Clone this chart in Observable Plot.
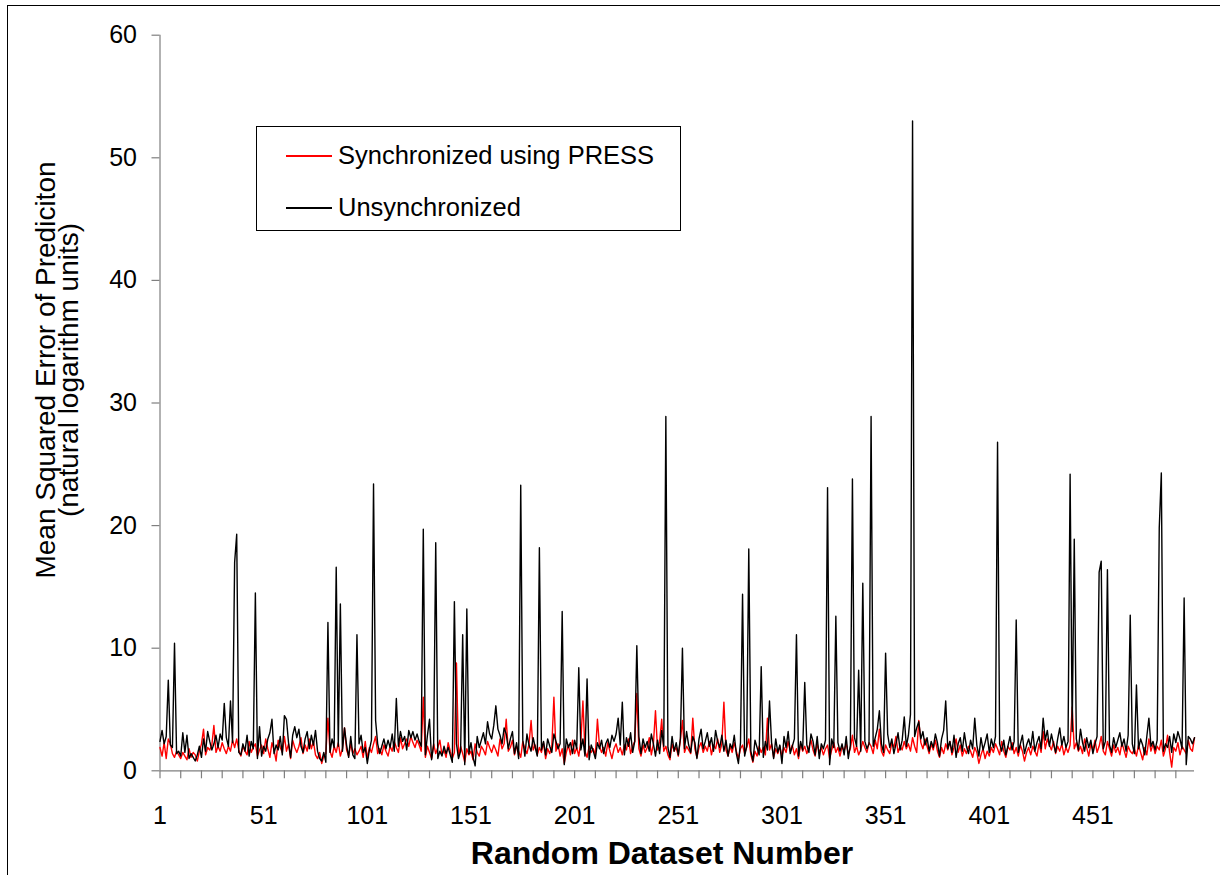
<!DOCTYPE html>
<html><head><meta charset="utf-8">
<script src="https://cdn.jsdelivr.net/npm/d3@7"></script>
<script src="https://cdn.jsdelivr.net/npm/@observablehq/plot@0.6"></script>
<style>
body{margin:0;background:#fff;font-family:"Liberation Sans",Arial,sans-serif;}
#wrap{position:relative;width:1220px;height:875px;overflow:hidden;background:#fff;}
#frame{position:absolute;left:7px;top:5px;width:1240px;height:900px;border:1.5px solid #000;box-sizing:border-box;pointer-events:none;}
#legend{position:absolute;left:256px;top:126px;width:425px;height:105px;border:1px solid #000;box-sizing:border-box;background:#fff;}
.lg{position:absolute;left:0;height:30px;font-size:25.5px;line-height:30px;color:#000;white-space:nowrap;}
.sw{position:absolute;left:29px;width:46px;height:1.5px;}
.lt{position:absolute;left:81px;top:0;}
#xtitle{position:absolute;left:662px;top:853px;transform:translate(-50%,-50%);font-weight:bold;font-size:32px;white-space:nowrap;}
#ytitle{position:absolute;left:57px;top:370px;transform:translate(-50%,-50%) rotate(-90deg);font-size:28px;line-height:23px;text-align:center;white-space:nowrap;}
</style>
</head><body>
<div id="wrap">
<div id="chart"></div>
<div id="legend"></div>
<div id="xtitle"></div>
<div id="ytitle"></div>
<div id="frame"></div>
</div>
<script>
// ---- data ----
const seriesNames = ["Synchronized using PRESS", "Unsynchronized"];
const seriesColors = ["#ff0000", "#000000"];
const xTitle = "Random Dataset Number";
const yTitleLines = ["Mean Squared Error of Prediciton", "(natural logarithm units)"];
const yTicks = [0, 10, 20, 30, 40, 50, 60];
const xLabelTicks = [1, 51, 101, 151, 201, 251, 301, 351, 401, 451];

const unsynchronized = [
2.4,3.3,2.2,2.8,7.4,2.1,1.9,10.4,1.4,1.6,
1.2,3.1,1.5,2.9,1.0,1.4,1.1,0.8,1.3,2.0,
1.1,2.6,1.6,3.2,2.4,1.7,2.2,2.9,1.9,3.0,
2.5,5.5,2.7,2.0,5.7,2.3,17.0,19.3,1.5,1.3,
2.2,1.6,2.9,1.2,2.4,1.8,14.5,1.0,3.6,1.2,
2.0,1.6,2.6,3.1,4.2,1.4,2.1,1.7,2.8,1.3,
4.5,4.2,2.3,1.1,2.9,3.6,2.7,3.4,2.0,1.5,
2.6,3.2,1.8,2.9,2.1,3.3,1.6,1.0,0.8,1.5,
0.7,12.1,1.5,2.6,1.9,16.6,2.0,13.6,1.6,3.5,
2.1,1.1,2.8,1.3,1.0,11.1,2.2,2.9,1.5,1.9,
0.6,1.7,2.5,23.4,4.1,2.2,1.4,2.0,2.6,1.8,
2.5,1.9,3.0,1.6,5.9,2.0,3.2,2.4,2.8,1.7,
3.3,2.7,3.2,2.5,3.0,2.4,2.0,19.7,1.3,2.9,
4.2,0.9,2.1,18.6,1.0,1.6,1.2,2.0,1.4,1.9,
1.3,0.7,13.8,2.2,1.0,1.6,11.1,0.5,13.2,1.4,
2.3,1.1,0.4,2.8,1.9,2.5,3.1,2.2,4.0,3.0,
2.6,3.7,5.3,3.4,2.9,2.2,3.5,3.0,1.8,2.6,
3.2,1.4,2.3,1.0,23.3,2.5,1.2,3.0,2.1,1.6,
2.7,1.9,1.2,18.2,1.7,2.4,1.3,2.6,2.0,1.5,
3.0,2.4,1.8,2.2,13.0,0.5,2.6,1.9,2.3,1.4,
2.5,1.8,8.4,1.7,2.6,1.2,7.5,0.9,2.1,1.6,
1.0,2.3,1.8,2.5,1.4,2.2,2.6,1.9,2.9,2.4,
3.0,4.3,2.1,5.6,1.3,2.7,2.0,3.1,1.5,2.4,
10.2,2.8,1.4,2.6,1.9,2.4,1.6,3.0,2.2,1.2,
2.5,1.4,3.3,2.0,28.9,1.9,1.1,2.8,1.6,2.3,
1.3,2.6,10.0,1.8,3.2,2.1,1.5,2.8,2.3,1.0,
2.6,3.4,1.8,2.4,3.1,2.0,2.7,1.6,3.3,2.4,
1.9,2.9,1.6,2.5,1.2,2.2,1.8,2.9,1.4,0.6,
2.3,14.4,1.2,2.0,18.1,1.6,0.8,2.5,1.9,1.3,
8.5,1.1,2.4,1.7,5.7,2.3,1.0,2.6,1.5,2.1,
0.6,2.8,1.9,3.2,1.4,2.0,2.6,11.1,1.2,2.4,
1.7,7.2,2.1,1.5,3.0,2.4,1.3,2.8,1.0,2.2,
1.8,2.5,23.1,0.5,2.6,1.9,12.6,2.3,1.6,2.2,
1.3,2.8,1.0,2.1,23.8,2.7,2.0,8.2,1.6,15.3,
2.4,1.8,2.2,28.9,2.0,2.7,3.4,4.9,2.2,1.5,
9.6,3.0,1.9,2.6,1.4,2.2,3.1,1.7,2.5,4.4,
2.0,2.9,4.6,53.0,2.8,3.5,4.0,2.6,3.2,2.1,
2.7,1.6,2.4,1.9,3.0,2.3,1.2,2.6,3.3,5.7,
1.8,2.4,1.5,2.9,1.1,2.2,2.7,1.6,3.1,2.0,
1.4,2.5,1.8,4.3,2.1,1.2,2.7,1.7,2.3,3.0,
1.5,2.6,1.9,2.8,26.8,2.2,1.6,2.5,1.3,2.0,
2.8,1.7,2.4,12.3,1.5,2.2,2.9,1.4,2.1,2.6,
1.9,3.2,1.6,2.3,2.8,1.8,4.3,2.5,3.3,2.0,
3.0,2.2,1.5,2.6,3.5,2.1,2.8,1.9,2.4,24.2,
3.2,18.9,2.6,1.7,3.4,2.3,1.6,2.7,1.9,2.5,
1.4,2.2,2.8,16.2,17.1,1.8,2.4,16.4,2.1,1.5,
2.7,1.9,2.5,3.1,2.0,2.6,1.6,2.9,12.7,2.2,
1.4,7.0,1.8,2.6,2.1,1.3,2.8,4.3,2.0,2.4,
1.7,2.5,19.8,24.3,1.6,2.2,1.9,2.8,1.5,3.0,
2.3,3.2,2.6,1.8,14.1,0.5,2.8,2.6,2.2,2.7
];

const synchronizedPress = [
1.9,1.2,2.3,1.0,2.6,2.2,1.4,1.1,1.6,1.3,
1.0,1.5,1.2,0.9,1.8,1.1,1.5,1.3,0.8,1.6,
2.2,3.4,1.3,1.9,1.7,2.1,3.7,1.5,2.0,1.6,
2.3,1.8,1.4,2.0,1.6,2.5,1.9,2.6,1.7,1.2,
2.0,1.6,1.3,2.4,1.5,1.9,2.2,1.2,1.7,2.1,
1.4,2.6,1.8,1.1,2.3,1.7,0.8,2.5,1.9,1.5,
2.8,1.6,2.2,1.0,2.5,1.9,1.5,2.0,2.7,1.4,
2.1,1.6,2.6,1.8,2.4,1.3,1.0,1.5,0.6,1.2,
1.4,4.3,1.6,1.1,2.0,1.5,2.3,1.2,1.8,3.5,
1.7,1.2,2.2,1.4,1.8,1.3,1.6,2.0,1.1,2.4,
1.0,1.9,1.5,2.2,2.8,1.4,1.8,1.3,2.1,1.6,
1.2,2.0,1.6,2.4,1.9,1.5,2.7,1.8,2.2,2.6,
2.0,2.8,2.3,1.9,2.5,2.1,1.6,6.0,1.1,2.0,
1.5,1.0,2.2,1.4,1.9,2.5,1.3,1.7,1.1,2.3,
1.6,1.0,1.5,8.8,1.2,2.0,1.4,0.7,1.8,1.3,
1.6,0.9,2.2,1.5,1.2,2.0,1.7,1.3,2.4,1.9,
1.5,2.1,1.7,1.2,2.6,1.8,2.2,4.2,1.6,1.9,
2.5,1.3,2.0,1.6,1.1,2.4,1.8,1.4,2.2,4.1,
1.7,2.1,1.3,1.9,1.5,2.3,1.0,1.8,1.4,2.0,
6.0,1.6,2.2,1.2,1.8,0.6,1.5,2.1,1.3,2.5,
1.4,1.9,1.2,2.4,5.7,1.6,1.1,2.0,1.5,1.8,
1.3,4.2,2.0,1.5,1.9,1.2,2.3,1.6,1.0,1.8,
2.2,1.5,1.9,1.3,2.1,1.7,2.6,1.4,2.0,2.4,
6.3,1.8,1.2,2.1,1.5,1.9,2.7,1.3,2.2,4.9,
1.7,2.4,4.2,1.6,2.0,1.3,0.9,2.2,1.6,1.9,
1.2,2.5,4.1,1.5,2.0,1.7,1.4,4.3,1.8,1.1,
1.9,2.3,1.5,2.0,1.6,2.4,1.3,2.1,1.8,2.6,
1.5,2.2,5.6,1.7,1.2,2.0,1.5,2.3,1.6,1.0,
1.8,2.1,1.4,1.9,2.6,1.3,0.7,1.6,1.2,2.0,
1.5,1.9,1.3,4.3,1.7,2.2,1.1,1.8,1.4,2.0,
1.2,1.9,1.5,2.4,1.6,2.1,1.3,1.8,1.0,2.2,
1.6,2.0,1.4,1.9,2.5,1.7,1.2,2.2,1.5,1.9,
1.3,1.8,2.1,1.0,1.7,2.3,1.5,1.9,1.2,2.0,
1.6,2.2,1.4,1.8,2.9,1.5,2.0,1.3,1.7,2.4,
1.9,1.5,2.3,2.0,1.4,2.5,1.8,3.4,1.6,1.2,
2.1,1.7,1.4,2.3,1.9,2.8,1.5,2.0,1.7,2.4,
1.8,2.2,1.6,2.7,2.0,1.5,4.1,2.3,1.8,2.6,
2.0,1.4,2.2,1.7,2.5,1.6,1.1,1.9,1.4,2.2,
1.7,2.4,1.3,1.9,2.6,1.5,2.1,1.2,1.8,1.4,
2.0,1.6,1.1,1.9,1.5,0.6,1.3,1.8,1.0,1.6,
1.2,1.9,1.5,2.2,1.8,1.3,2.4,1.6,1.1,2.0,
1.7,2.3,1.4,1.9,1.2,2.1,1.6,0.8,1.5,1.9,
1.3,2.0,1.6,1.2,2.2,1.5,3.2,1.8,2.6,2.1,
1.7,2.4,1.4,2.0,1.6,2.2,1.3,1.9,1.5,2.1,
5.2,1.8,2.3,1.6,2.0,1.4,2.6,1.9,1.2,2.2,
1.7,2.5,1.5,2.0,2.8,1.6,1.3,2.4,1.8,1.2,
2.1,1.5,1.9,1.3,2.3,1.7,1.1,2.0,1.6,1.4,
1.8,1.2,2.1,1.5,0.9,1.9,1.3,2.6,1.6,2.2,
1.4,2.0,1.7,2.5,1.2,1.8,2.9,1.5,0.3,1.9,
1.6,2.3,1.3,2.0,1.7,1.4,2.5,1.8,1.6,2.7
];

const datasetNumbers = d3.range(1, unsynchronized.length + 1);
const rows = datasetNumbers.map((i, k) => ({i, press: synchronizedPress[k], unsync: unsynchronized[k]}));
const xMinorTicks = d3.range(1, 501, 10);

const axisColor = "#7f7f7f";
const chart = Plot.plot({
  width: 1220,
  height: 875,
  marginLeft: 159.5,
  marginRight: 26,
  marginTop: 34.7,
  marginBottom: 104.7,
  style: {fontFamily: "'Liberation Sans', Arial, sans-serif", fontSize: "25px", color: "#000", background: "transparent", overflow: "visible"},
  x: {domain: [1, 500]},
  y: {domain: [0, 60]},
  marks: [
    Plot.ruleY([0], {stroke: axisColor, strokeWidth: 1.2}),
    Plot.ruleX([1], {stroke: axisColor, strokeWidth: 1.2}),
    Plot.axisY({ticks: yTicks, tickSize: 8, tickPadding: 15, stroke: axisColor, strokeWidth: 1.2, label: null, fontSize: 25, fill: "#000"}),
    Plot.axisX({ticks: xMinorTicks, tickSize: 8, tickFormat: () => "", stroke: axisColor, strokeWidth: 1.2, label: null}),
    Plot.axisX({ticks: xLabelTicks, tickSize: 0, tickPadding: 35, label: null, fontSize: 25, fill: "#000"}),
    Plot.lineY(rows, {x: "i", y: "press", stroke: seriesColors[0], strokeWidth: 1.4}),
    Plot.lineY(rows, {x: "i", y: "unsync", stroke: seriesColors[1], strokeWidth: 1.4})
  ]
});
document.getElementById("chart").appendChild(chart);

// legend
const lg = document.getElementById("legend");
seriesNames.forEach((name, k) => {
  const row = document.createElement("div");
  row.className = "lg";
  row.style.top = (13 + k * 52) + "px";
  row.style.width = "100%";
  const sw = document.createElement("div");
  sw.className = "sw";
  sw.style.top = "15px";
  sw.style.background = seriesColors[k];
  const t = document.createElement("div");
  t.className = "lt";
  t.textContent = name;
  row.appendChild(sw); row.appendChild(t);
  lg.appendChild(row);
});
document.getElementById("xtitle").textContent = xTitle;
document.getElementById("ytitle").innerHTML = yTitleLines.map(s => "<div>" + s + "</div>").join("");
</script>
</body></html>
